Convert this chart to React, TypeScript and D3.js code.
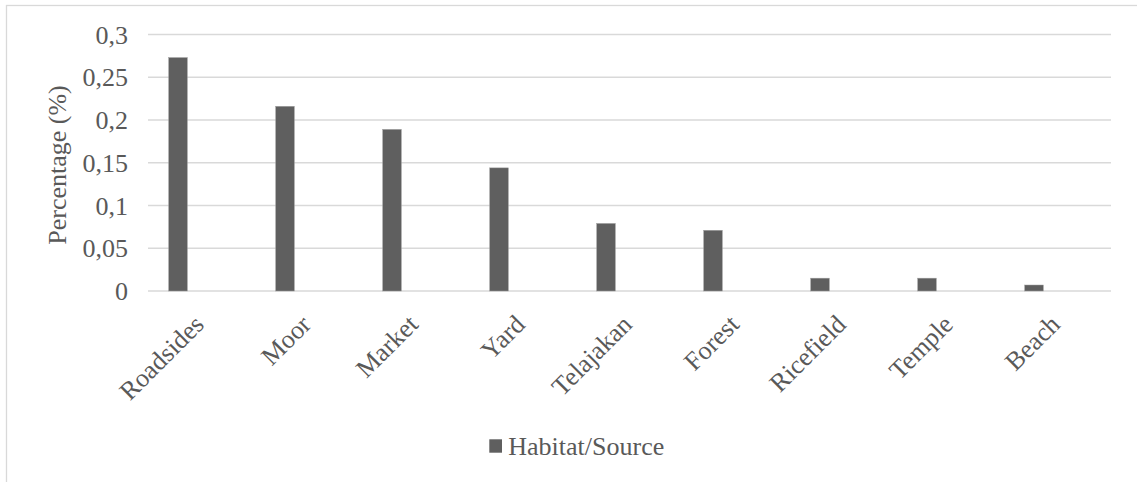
import React from "react";
import * as d3 from "d3";

// Share of specimens by habitat/source
const categories: string[] = [
  "Roadsides",
  "Moor",
  "Market",
  "Yard",
  "Telajakan",
  "Forest",
  "Ricefield",
  "Temple",
  "Beach",
];
const values: number[] = [0.273, 0.216, 0.189, 0.144, 0.079, 0.071, 0.015, 0.015, 0.007];
const seriesName = "Habitat/Source";
const yTicks: number[] = [0, 0.05, 0.1, 0.15, 0.2, 0.25, 0.3];
const yTitle = "Percentage (%)";

const W = 1137;
const H = 482;
const FONT = "'Liberation Serif', 'Times New Roman', serif";
const TEXT = "#595959";
const GRID = "#d9d9d9";
const BAR = "#5f5f5f";

const locale = d3.formatLocale({
  decimal: ",",
  thousands: ".",
  grouping: [3],
  currency: ["", ""],
});
const fmt = locale.format(".2~f");

export default function App() {
  const x = d3.scaleBand<string>().domain(categories).range([148, 1111]).padding(0);
  const y = d3.scaleLinear().domain([0, 0.3]).range([291, 34.5]);
  const bw = x.bandwidth();
  const barOffset = bw * 0.1935;
  const barWidth = bw * 0.174;

  return (
    <svg
      width={W}
      height={H}
      style={{ position: "absolute", left: 0, top: 0, background: "#fff" }}
      fontFamily={FONT}
    >
      <rect x={0} y={0} width={W} height={H} fill="#fff" />
      {/* chart frame */}
      <rect x={6.5} y={5.5} width={W + 20} height={H + 20} fill="none" stroke={GRID} strokeWidth={1.3} />

      {/* gridlines */}
      {yTicks.map((t) => (
        <line key={t} x1={148} x2={1111} y1={y(t)} y2={y(t)} stroke={GRID} strokeWidth={1.3} />
      ))}

      {/* y tick labels */}
      {yTicks.map((t) => (
        <text key={"l" + t} x={128} y={y(t) + 9} textAnchor="end" fontSize={26} fill={TEXT}>
          {fmt(t)}
        </text>
      ))}

      {/* y axis title */}
      <text
        transform={`translate(66,165) rotate(-90)`}
        textAnchor="middle"
        fontSize={26}
        fill={TEXT}
      >
        {yTitle}
      </text>

      {/* bars */}
      {categories.map((c, i) => (
        <rect
          key={c}
          x={(x(c) as number) + barOffset}
          y={y(values[i])}
          width={barWidth}
          height={y(0) - y(values[i])}
          fill={BAR}
          stroke="#9e9e9e"
          strokeWidth={0.5}
        />
      ))}

      {/* category labels */}
      {categories.map((c) => {
        const cx = (x(c) as number) + bw / 2 + 4;
        return (
          <text
            key={"c" + c}
            transform={`translate(${cx},326) rotate(-45)`}
            textAnchor="end"
            fontSize={26}
            fill={TEXT}
          >
            {c}
          </text>
        );
      })}

      {/* legend */}
      <rect x={489.3} y={439.3} width={12.7} height={13.4} fill={BAR} />
      <text x={508.3} y={454.5} fontSize={26} fill={TEXT}>
        {seriesName}
      </text>
    </svg>
  );
}
